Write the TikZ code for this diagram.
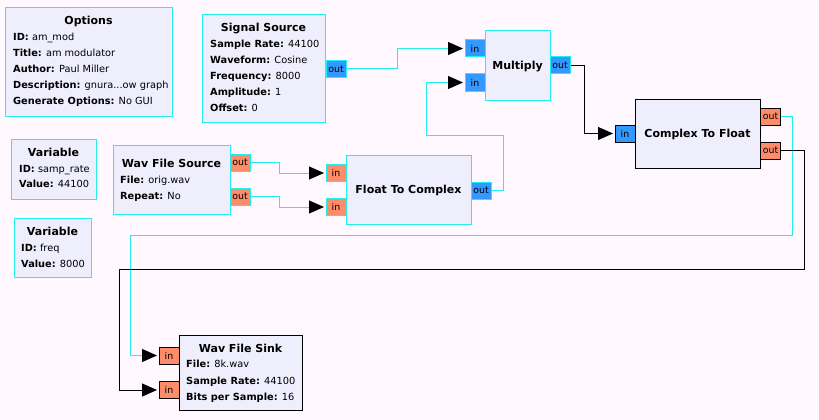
\documentclass[tikz,border=0pt]{standalone}
\usepackage{fontspec}
\setmainfont{DejaVu Sans}
\usetikzlibrary{arrows.meta}
\definecolor{bgc}{HTML}{FFF9FF}
\definecolor{blockfill}{HTML}{EFEEFC}
\definecolor{hl}{HTML}{1EF0F0}
\definecolor{cplx}{HTML}{3399FF}
\definecolor{flt}{HTML}{FF8C69}
\tikzset{
  x=1pt, y=-1pt,
  block/.style={draw=hl, fill=blockfill, line width=1pt, inner sep=0pt},
  blockk/.style={block, draw=black},
  ttl/.style={anchor=base, inner sep=0pt, font=\fontsize{11}{13}\selectfont\bfseries},
  par/.style={anchor=base west, inner sep=0pt, font=\fontsize{9.8}{12}\selectfont},
  port/.style={line width=1pt, inner sep=0pt, minimum width=20pt, minimum height=17pt, font=\fontsize{9.4}{11}\selectfont},
  cport/.style={port, draw=hl, fill=cplx},
  fport/.style={port, draw=hl, fill=flt},
  cportk/.style={port, draw=black, fill=cplx},
  fportk/.style={port, draw=black, fill=flt},
  conn/.style={draw=hl, line width=1pt},
  connk/.style={draw=black, line width=1pt},
  arr/.style={-{Triangle[length=15pt,width=13pt,color=black,fill=black]}, shorten >=1.5pt},
}
\begin{document}
\begin{tikzpicture}
\fill[bgc] (0,0) rectangle (819,420);
\useasboundingbox (0,0) rectangle (819,420);

% Options
\node[block, minimum width=167pt, minimum height=108pt] (opt) at (88.5,62) {};
\node[ttl] (opt_t) at (88.5,25) {Options};
\node[par] (opt_p1) at (13,41) {\textbf{ID:} am\_mod};
\node[par] (opt_p2) at (13,56.9) {\textbf{Title:} am modulator};
\node[par] (opt_p3) at (13,72.8) {\textbf{Author:} Paul Miller};
\node[par] (opt_p4) at (13,88.7) {\textbf{Description:} gnura...ow graph};
\node[par] (opt_p5) at (13,104.5) {\textbf{Generate Options:} No GUI};

% Signal Source
\node[block, minimum width=123pt, minimum height=107pt] (ss) at (263.5,68.5) {};
\node[ttl] (ss_t) at (263.5,31.7) {Signal Source};
\node[par] (ss_p1) at (210,47.7) {\textbf{Sample Rate:} 44100};
\node[par] (ss_p2) at (210,63.7) {\textbf{Waveform:} Cosine};
\node[par] (ss_p3) at (210,79.7) {\textbf{Frequency:} 8000};
\node[par] (ss_p4) at (210,95.7) {\textbf{Amplitude:} 1};
\node[par] (ss_p5) at (210,111.7) {\textbf{Offset:} 0};
\node[cport] (ss_out) at (336,69) {out};

% Multiply
\node[block, minimum width=65pt, minimum height=69pt] (mul) at (517.5,65.5) {};
\node[ttl] (mul_t) at (517.5,69.3) {Multiply};
\node[cport] (mul_in1) at (475,48.5) {in};
\node[cport] (mul_in2) at (475,82.5) {in};
\node[cport] (mul_out) at (560,65.5) {out};

% Complex To Float
\node[blockk, minimum width=125pt, minimum height=69pt] (ctf) at (697.5,133.5) {};
\node[ttl] (ctf_t) at (697.5,137.3) {Complex To Float};
\node[cportk] (ctf_in) at (625,133.5) {in};
\node[fportk] (ctf_out1) at (770.5,116.5) {out};
\node[fportk] (ctf_out2) at (770.5,150.5) {out};

% Variables
\node[block, minimum width=85pt, minimum height=60pt] (var1) at (53.5,169) {};
\node[ttl] (var1_t) at (53.5,156.3) {Variable};
\node[par] (var1_p1) at (19,172.3) {\textbf{ID:} samp\_rate};
\node[par] (var1_p2) at (19,187.9) {\textbf{Value:} 44100};

\node[block, minimum width=77pt, minimum height=59pt] (var2) at (52.5,247.5) {};
\node[ttl] (var2_t) at (52.5,235.3) {Variable};
\node[par] (var2_p1) at (21,251.1) {\textbf{ID:} freq};
\node[par] (var2_p2) at (21,267) {\textbf{Value:} 8000};

% Wav File Source
\node[block, minimum width=117pt, minimum height=69pt] (wfs) at (171.5,179.5) {};
\node[ttl] (wfs_t) at (171.5,167.3) {Wav File Source};
\node[par] (wfs_p1) at (120,183.3) {\textbf{File:} orig.wav};
\node[par] (wfs_p2) at (120,199.1) {\textbf{Repeat:} No};
\node[fport] (wfs_out1) at (240,162.5) {out};
\node[fport] (wfs_out2) at (240,196.5) {out};

% Float To Complex
\node[block, minimum width=125pt, minimum height=69pt] (ftc) at (408.5,189.5) {};
\node[ttl] (ftc_t) at (408.5,193.3) {Float To Complex};
\node[fport] (ftc_in1) at (336,173) {in};
\node[fport] (ftc_in2) at (336,207) {in};
\node[cport] (ftc_out) at (481,190.5) {out};

% Wav File Sink
\node[blockk, minimum width=123pt, minimum height=75pt] (sink) at (240.5,372.5) {};
\node[ttl] (sink_t) at (240.5,352.3) {Wav File Sink};
\node[par] (sink_p1) at (186,367.7) {\textbf{File:} 8k.wav};
\node[par] (sink_p2) at (186,384.2) {\textbf{Sample Rate:} 44100};
\node[par] (sink_p3) at (186,400) {\textbf{Bits per Sample:} 16};
\node[fportk] (sink_in1) at (169,355.5) {in};
\node[fportk] (sink_in2) at (169,390) {in};

% connections
\draw[conn, arr] (ss_out.east) -- ++(51,0) |- (mul_in1.west);
\draw[conn, arr] (ftc_out.east) -- ++(12,0) |- (426,135) |- (mul_in2.west);
\draw[connk, arr] (mul_out.east) -- ++(14,0) |- (ctf_in.west);
\draw[conn, arr] (wfs_out1.east) -- ++(29,0) |- (ftc_in1.west);
\draw[conn, arr] (wfs_out2.east) -- ++(29,0) |- (ftc_in2.west);
\draw[conn, arr] (ctf_out1.east) -- ++(11,0) |- (130,235) |- (sink_in1.west);
\draw[connk, arr] (ctf_out2.east) -- ++(23,0) |- (119,269) |- (sink_in2.west);
\end{tikzpicture}
\end{document}
